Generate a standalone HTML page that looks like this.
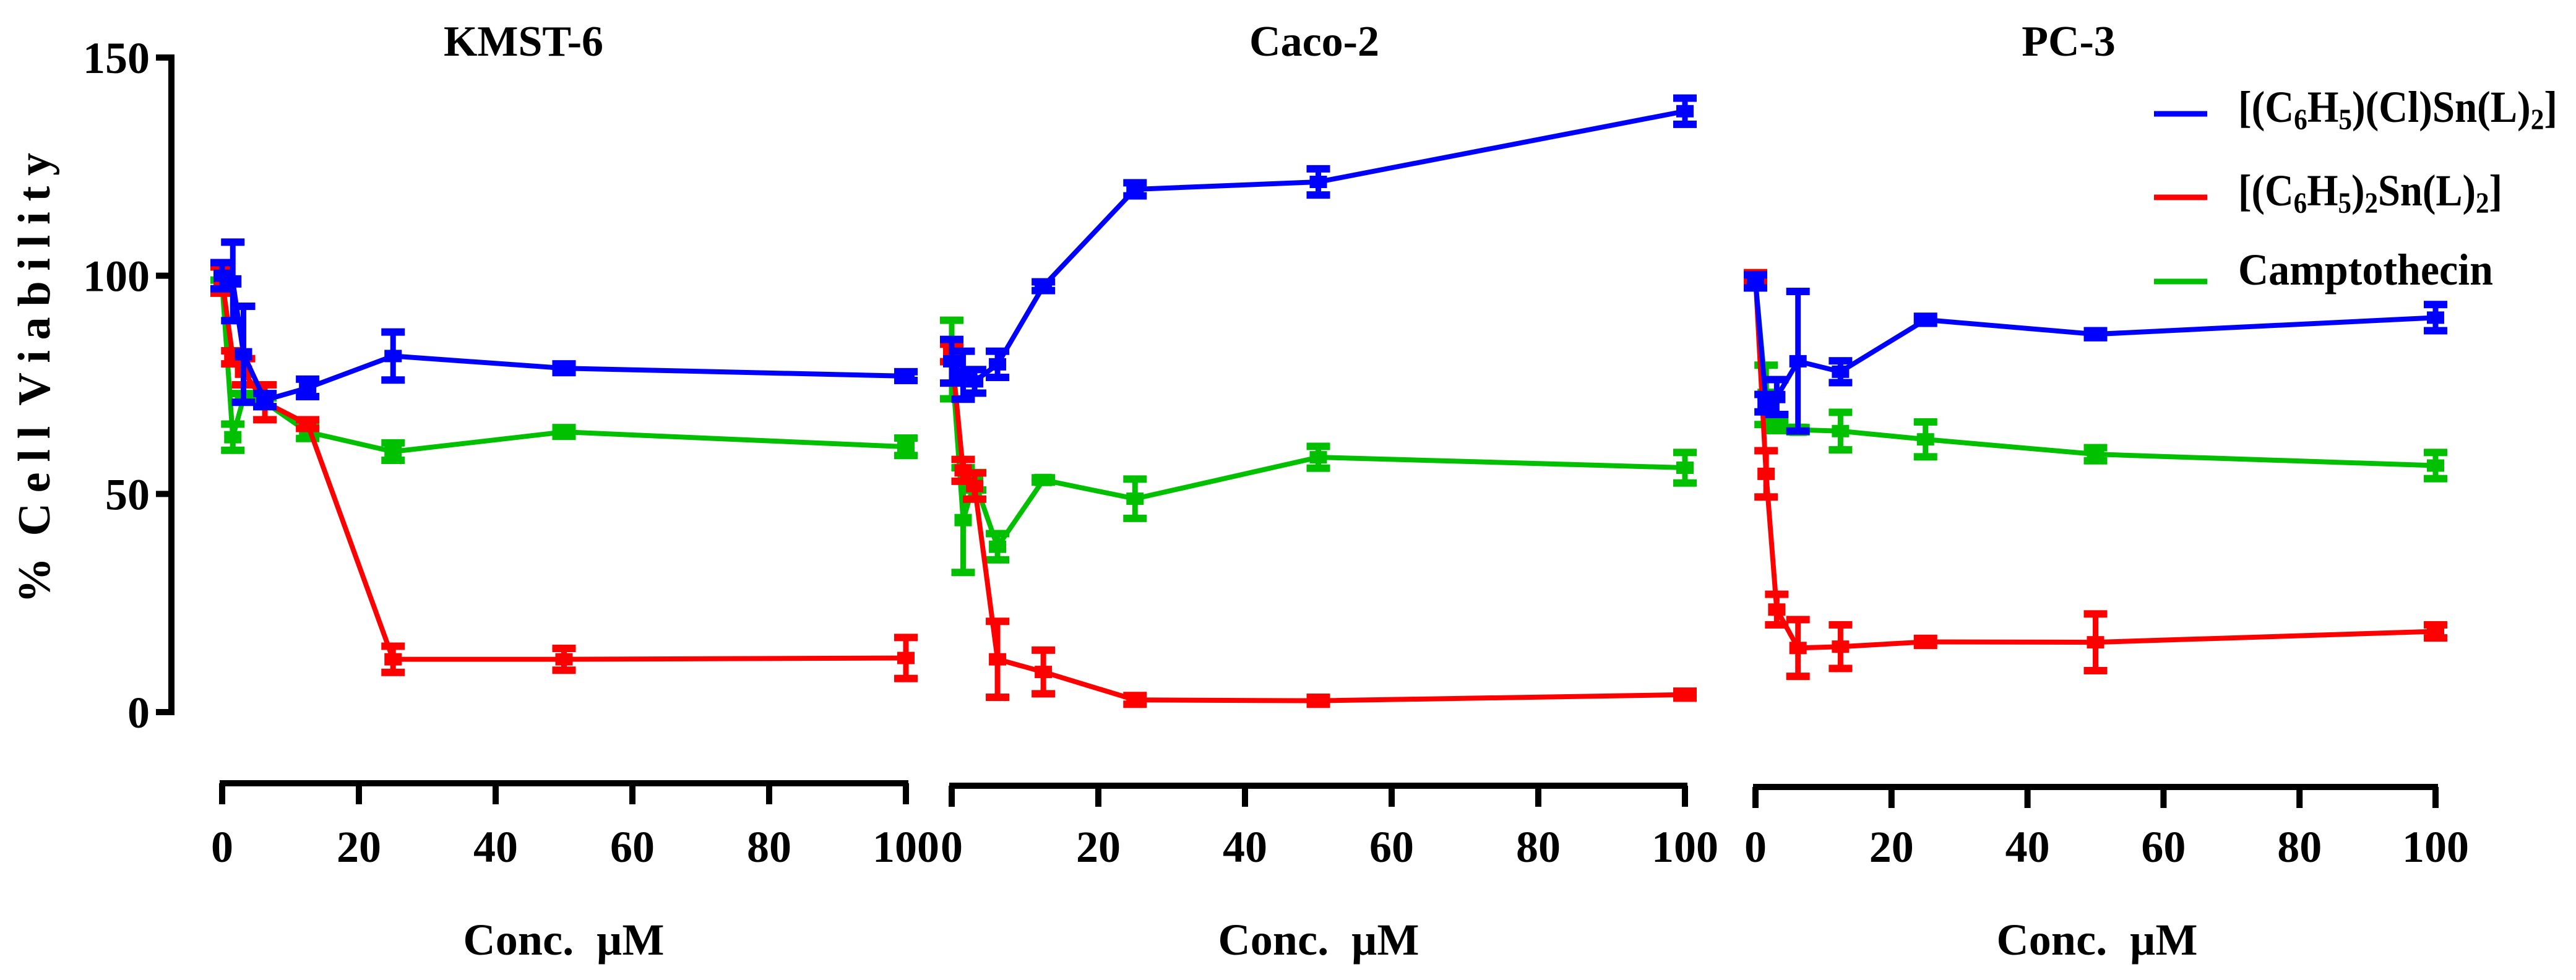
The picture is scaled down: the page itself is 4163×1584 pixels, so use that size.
<!DOCTYPE html>
<html><head><meta charset="utf-8"><style>
html,body{margin:0;padding:0;background:#fff;}
svg{display:block;font-family:"Liberation Serif","Times New Roman",serif;font-weight:bold;}
.pre{white-space:pre;}
</style></head><body>
<svg id="chart" width="4163" height="1584" viewBox="0 0 4163 1584" xmlns="http://www.w3.org/2000/svg">
<rect width="4163" height="1584" fill="#fff"/>
<g id="axes"></g>
<g id="series"></g>
<text class="pre" transform="translate(80,611) rotate(-90)" text-anchor="middle" font-size="74" textLength="728" lengthAdjust="spacing">%  C e l l  V i a b i l i t y</text>
<g>
 <line x1="3481" y1="184" x2="3567" y2="184" stroke="#0000ff" stroke-width="9"/>
 <text x="3617" y="197" font-size="72" textLength="516" lengthAdjust="spacingAndGlyphs">[(C<tspan font-size="48" dy="12">6</tspan><tspan dy="-12">H</tspan><tspan font-size="48" dy="12">5</tspan><tspan dy="-12">)(Cl)Sn(L)</tspan><tspan font-size="48" dy="12">2</tspan><tspan dy="-12">]</tspan></text>
 <line x1="3481" y1="319" x2="3567" y2="319" stroke="#ff0000" stroke-width="9"/>
 <text x="3617" y="332" font-size="72" textLength="427" lengthAdjust="spacingAndGlyphs">[(C<tspan font-size="48" dy="12">6</tspan><tspan dy="-12">H</tspan><tspan font-size="48" dy="12">5</tspan><tspan dy="-12">)</tspan><tspan font-size="48" dy="12">2</tspan><tspan dy="-12">Sn(L)</tspan><tspan font-size="48" dy="12">2</tspan><tspan dy="-12">]</tspan></text>
 <line x1="3481" y1="455" x2="3567" y2="455" stroke="#00c000" stroke-width="9"/>
 <text x="3617" y="460" font-size="72" textLength="412" lengthAdjust="spacingAndGlyphs">Camptothecin</text>
</g>
</svg>
<script>
// ---- data ----
const panelNames = ["KMST-6", "Caco-2", "PC-3"];
const conc = [0, 1.56, 3.125, 6.25, 12.5, 25, 50, 100];
const xTicks = [0, 20, 40, 60, 80, 100];
const yTicks = [0, 50, 100, 150];
// KMST-6
const k_blue = [100, 98.7, 82, 71.5, 74.3, 81.6, 78.8, 77];
const k_blueErr = [3, 9, 11, 1.5, 2, 5.5, 1, 1];
const k_red = [99, 81.3, 78, 71, 66, 12.1, 12.1, 12.4];
const k_redErr = [3, 1.5, 3, 4, 1, 3, 2.5, 4.7];
const k_green = [98, 63, 72, 71, 64.2, 59.7, 64.2, 60.8];
const k_greenErr = [1, 3, 1, 1, 1.5, 2, 1, 2];
// Caco-2
const c_blue = [80.4, 77.2, 75.8, 79.7, 97.6, 119.8, 121.5, 137.7];
const c_blueErr = [5, 5.5, 2.7, 3, 1, 1.5, 3, 3];
const c_red = [82.3, 55.4, 51.8, 12.1, 9.2, 2.8, 2.6, 4];
const c_redErr = [2, 2.5, 3, 8.7, 5, 1, 0.8, 0.8];
const c_green = [80.8, 44, 52.9, 37.9, 53.2, 48.9, 58.4, 56];
const c_greenErr = [9, 12, 2, 3, 0.5, 4.5, 2.5, 3.5];
// PC-3
const p_blue = [98.7, 70.8, 72.2, 80.4, 78, 89.9, 86.6, 90.4];
const p_blueErr = [1.5, 2, 4, 16, 2.5, 0.8, 0.8, 3];
const p_red = [99.7, 54.6, 23.5, 14.7, 15, 16.1, 16, 18.5];
const p_redErr = [1, 5.3, 3.5, 6.5, 5, 0.8, 6.5, 1.5];
const p_green = [98.7, 72.7, 65.5, 64.7, 64.4, 62.5, 59.1, 56.5];
const p_greenErr = [1.5, 6.8, 1, 0.5, 4.3, 4, 1.5, 3];

// ---- layout ----
const NS = "http://www.w3.org/2000/svg";
const panels = [
  {x0: 359, x1: 1464, axisY: 1266, title: 846, axisTitle: 911, series: [[k_green,k_greenErr,"#00c000","camptothecin"],[k_red,k_redErr,"#ff0000","ph2"],[k_blue,k_blueErr,"#0000ff","phcl"]]},
  {x0: 1538, x1: 2723, axisY: 1270, title: 2124, axisTitle: 2131, series: [[c_green,c_greenErr,"#00c000","camptothecin"],[c_red,c_redErr,"#ff0000","ph2"],[c_blue,c_blueErr,"#0000ff","phcl"]]},
  {x0: 2837, x1: 3936, axisY: 1272, title: 3343, axisTitle: 3389, series: [[p_green,p_greenErr,"#00c000","camptothecin"],[p_red,p_redErr,"#ff0000","ph2"],[p_blue,p_blueErr,"#0000ff","phcl"]]}
];
function yScale(v){ return 1151 - (v/150)*(1151-93); }
function mk(tag, attrs, parent){ const e=document.createElementNS(NS,tag); for(const k in attrs) e.setAttribute(k,attrs[k]); parent.appendChild(e); return e; }
const axes = document.getElementById('axes');
const ser = document.getElementById('series');

const ya = mk('line',{x1:277,y1:88,x2:277,y2:1156,stroke:'#000','stroke-width':10},axes);


yTicks.forEach(t=>{
  const y=yScale(t);
  const tk=mk('line',{x1:252,y1:y,x2:282,y2:y,stroke:'#000','stroke-width':10},axes);
  
  
  const lb=mk('text',{x:242,y:y+25,'text-anchor':'end','font-size':72},axes);
  lb.textContent=t;
  
  
});

panels.forEach((p,pi)=>{
  const xs = v => p.x0 + (v/100)*(p.x1-p.x0);
  const g = mk('g',{},axes);
  
  
  const xl=mk('line',{x1:p.x0-4,y1:p.axisY,x2:p.x1+4,y2:p.axisY,stroke:'#000','stroke-width':10},g);
  
  
  xTicks.forEach(t=>{
    const x=xs(t);
    const tk=mk('line',{x1:x,y1:p.axisY,x2:x,y2:p.axisY+34,stroke:'#000','stroke-width':10},g);
    
    
    const lb=mk('text',{x:x,y:1393,'text-anchor':'middle','font-size':72},g);
    lb.textContent=t;
    
    
  });
  const tt=mk('text',{x:p.title,y:90,'text-anchor':'middle','font-size':70},g);
  tt.textContent=panelNames[pi];
  
  
  const at=mk('text',{x:p.axisTitle,y:1543,'text-anchor':'middle','font-size':72,'class':'pre',textLength:325,lengthAdjust:'spacing'},g);
  at.textContent='Conc.  \u00b5M';
  
  

  p.series.forEach(([vals,errs,col,nm])=>{
    const sg=mk('g',{},ser);
    
    
    const pts=vals.map((v,i)=>xs(conc[i])+','+yScale(v)).join(' ');
    const pl=mk('polyline',{points:pts,fill:'none',stroke:col,'stroke-width':8,'stroke-linejoin':'miter'},sg);
    
    
    vals.forEach((v,i)=>{
      const x=xs(conc[i]), yt=yScale(v+errs[i]), yb=yScale(v-errs[i]);
      const eb=mk('line',{x1:x,y1:yt,x2:x,y2:yb,stroke:col,'stroke-width':9},sg);
      
      
      const c1=mk('rect',{x:x-19,y:yt-6,width:38,height:12,fill:col},sg);
      
      
      const c2=mk('rect',{x:x-19,y:yb-6,width:38,height:12,fill:col},sg);
      
      
      const m=mk('rect',{x:x-14,y:yScale(v)-10,width:28,height:20,fill:col},sg);
      
      
    });
  });
});
</script>
</body></html>
